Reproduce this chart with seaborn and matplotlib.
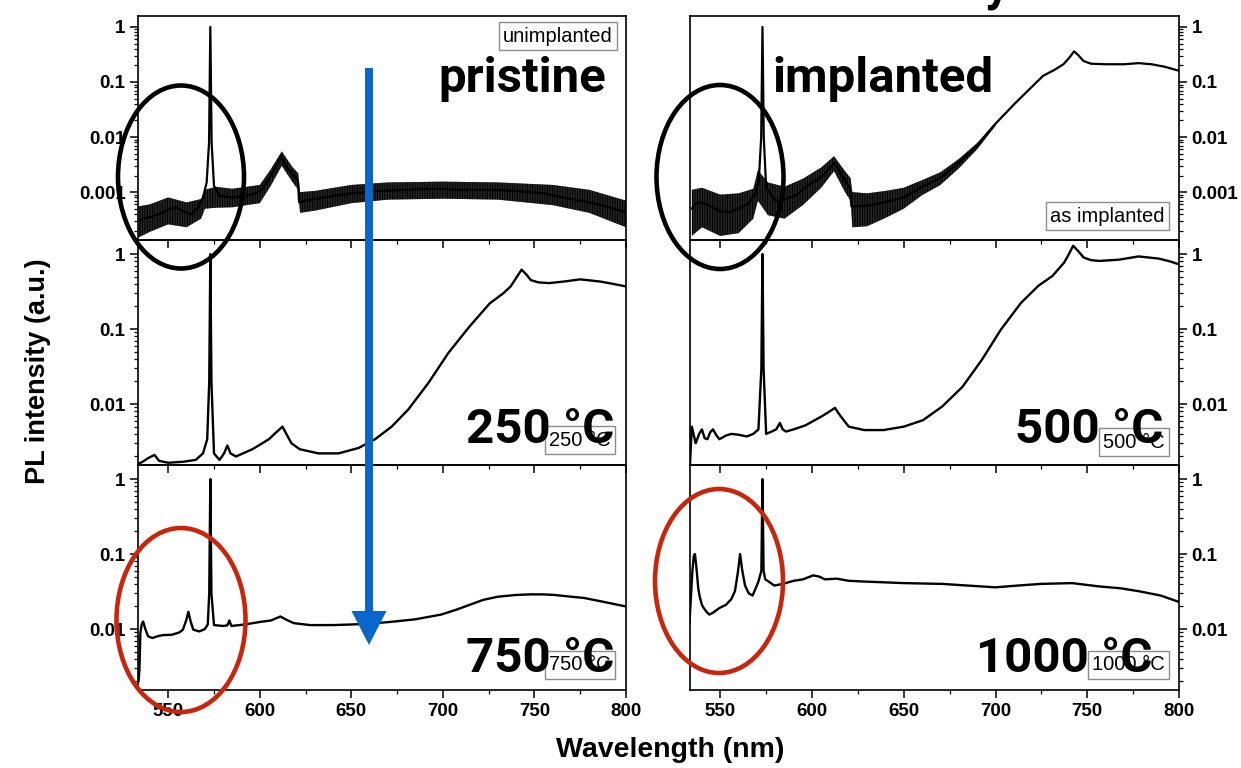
import numpy as np
import pandas as pd
import matplotlib
matplotlib.use("Agg")
import matplotlib.pyplot as plt
import seaborn as sns
from matplotlib.patches import Ellipse, FancyArrow
from matplotlib.ticker import FixedLocator, LogLocator, NullFormatter, MultipleLocator

# ---------------- data ----------------
wl_unimp = [533.8, 536, 540, 545, 550, 554, 558, 562, 566, 569, 571, 572.3, 573, 573.7, 575, 578, 585,
            592, 598, 602, 606, 609, 611.7, 614, 617, 620, 620.8, 621.5, 625, 635, 650, 665, 680, 695,
            710, 725, 740, 755, 770, 785, 800]
pl_unimp = [3.0e-4, 3.3e-4, 3.5e-4, 4.0e-4, 4.8e-4, 5.3e-4, 4.6e-4, 3.9e-4, 5.0e-4, 8.0e-4, 1.5e-3, 8e-3,
            1.0, 8e-3, 1.3e-3, 8.5e-4, 8.0e-4, 8.5e-4, 9.5e-4, 1.2e-3, 2.0e-3, 3.0e-3, 4.5e-3, 3.0e-3,
            2.3e-3, 1.8e-3, 1.6e-3, 6.5e-4, 7.0e-4, 8.0e-4, 9.5e-4, 1.05e-3, 1.1e-3, 1.15e-3, 1.1e-3,
            1.1e-3, 1.05e-3, 9.5e-4, 7.5e-4, 6.0e-4, 4.3e-4]
band_wl_unimp = [533.8, 540, 550, 560, 568, 570, 576, 585, 600, 606, 612, 618, 621, 622, 630, 650, 670,
                 700, 730, 760, 780, 800]
band_lo_unimp = [1.5e-4, 1.9e-4, 2.6e-4, 2.3e-4, 3.3e-4, 5e-4, 5.2e-4, 5.3e-4, 6.3e-4, 1.3e-3, 3.0e-3,
                 1.5e-3, 1.1e-3, 4.2e-4, 4.6e-4, 6.3e-4, 7.3e-4, 7.6e-4, 7.3e-4, 5.8e-4, 4.2e-4, 2.3e-4]
band_hi_unimp = [5.5e-4, 6e-4, 8e-4, 6.5e-4, 7.5e-4, 1.1e-3, 1.25e-3, 1.15e-3, 1.35e-3, 2.6e-3, 5.5e-3,
                 2.8e-3, 2.2e-3, 1.0e-3, 1.05e-3, 1.35e-3, 1.5e-3, 1.55e-3, 1.5e-3, 1.35e-3, 1.1e-3, 7e-4]

wl_asimp = [534.5, 536, 540, 545, 550, 555, 560, 565, 569, 571, 572.3, 573, 573.7, 575, 580, 586, 592,
            597, 602, 606, 610, 612.5, 615, 618, 620.5, 621.5, 625, 632, 640, 650, 660, 670, 680, 690,
            700, 710, 720, 726, 732, 737, 740, 742.8, 745, 748, 752, 760, 770, 778, 785, 792, 800]
pl_asimp = [5e-4, 6e-4, 6.5e-4, 5.5e-4, 4.5e-4, 4.3e-4, 5e-4, 6e-4, 9e-4, 1.6e-3, 1e-2, 1.0, 1e-2,
            1.2e-3, 7e-4, 7.5e-4, 9e-4, 1.3e-3, 1.6e-3, 2.0e-3, 2.8e-3, 3.4e-3, 2.4e-3, 1.6e-3, 1.2e-3,
            5.5e-4, 5.5e-4, 5.8e-4, 6.6e-4, 8e-4, 1.25e-3, 1.8e-3, 3.4e-3, 7e-3, 1.75e-2, 3.9e-2, 8.3e-2,
            0.13, 0.165, 0.21, 0.27, 0.36, 0.31, 0.24, 0.215, 0.21, 0.21, 0.22, 0.21, 0.19, 0.16]
band_wl_asimp = [534.5, 540, 550, 560, 568, 570.5, 576, 585, 595, 605, 612, 618, 621, 622, 630, 640,
                 650, 660, 670, 680, 690, 700]
band_lo_asimp = [1.6e-4, 2.3e-4, 1.6e-4, 1.8e-4, 3.3e-4, 7e-4, 3.8e-4, 3.3e-4, 5.8e-4, 1.2e-3, 2.4e-3,
                 1.0e-3, 7e-4, 2.3e-4, 2.4e-4, 3.4e-4, 5e-4, 8.8e-4, 1.35e-3, 2.7e-3, 6.0e-3, 1.6e-2]
band_hi_asimp = [1.1e-3, 1.2e-3, 9e-4, 9.5e-4, 1.15e-3, 2.5e-3, 1.5e-3, 1.25e-3, 1.75e-3, 2.8e-3, 4.5e-3,
                 2.4e-3, 1.8e-3, 1.0e-3, 9.5e-4, 1.05e-3, 1.2e-3, 1.65e-3, 2.3e-3, 4.0e-3, 7.8e-3, 1.85e-2]

wl_250 = [533.8, 536, 539, 542.5, 545, 550, 558, 565, 569, 571.3, 572.4, 573, 573.6, 575, 578, 580.5,
          582.3, 584, 587, 596, 605, 609, 612.4, 615, 617.3, 621.8, 632, 643, 654, 663, 672, 681, 692,
          703, 714.5, 725.6, 733, 737, 740, 743, 746, 748, 752, 758, 766, 775, 786, 793, 800]
pl_250 = [1.6e-3, 1.7e-3, 1.9e-3, 2.1e-3, 1.75e-3, 1.65e-3, 1.7e-3, 1.8e-3, 2.2e-3, 3.4e-3, 2e-2, 1.0,
          2e-2, 2.2e-3, 1.8e-3, 2.2e-3, 2.8e-3, 2.2e-3, 2.0e-3, 2.5e-3, 3.4e-3, 4.2e-3, 5.0e-3, 3.8e-3,
          3.0e-3, 2.5e-3, 2.2e-3, 2.2e-3, 2.6e-3, 3.4e-3, 5.0e-3, 8.4e-3, 1.9e-2, 4.8e-2, 0.108, 0.22,
          0.3, 0.37, 0.48, 0.62, 0.52, 0.45, 0.42, 0.41, 0.43, 0.46, 0.43, 0.40, 0.37]

wl_500 = [533.5, 534.5, 536.6, 538.5, 540, 541.5, 543, 544.5, 546, 548, 549.5, 553, 556, 560, 564.4, 568,
          570.8, 572.4, 573, 573.6, 575, 578, 580.5, 582.5, 584, 585.8, 590, 596.4, 605, 609, 612.5, 615,
          620, 628.5, 639, 650, 660.5, 671, 682, 692.6, 703, 714, 723.5, 731, 737.4, 740, 742.3, 745,
          748, 752, 756.6, 767, 778, 789, 795, 800]
pl_500 = [1.6e-3, 5e-3, 3.0e-3, 4.0e-3, 4.6e-3, 3.5e-3, 3.4e-3, 4.2e-3, 4.6e-3, 3.8e-3, 3.4e-3, 3.8e-3,
          4.0e-3, 3.9e-3, 3.7e-3, 4.0e-3, 4.6e-3, 3e-2, 1.0, 3e-2, 4.0e-3, 4.3e-3, 4.6e-3, 5.6e-3, 4.6e-3,
          4.3e-3, 4.6e-3, 5.2e-3, 6.8e-3, 7.8e-3, 8.9e-3, 7.2e-3, 5.0e-3, 4.5e-3, 4.5e-3, 5.0e-3, 6.1e-3,
          9.3e-3, 1.7e-2, 3.9e-2, 9.9e-2, 0.225, 0.38, 0.51, 0.77, 1.0, 1.29, 1.1, 0.9, 0.83, 0.81, 0.84,
          0.93, 0.87, 0.8, 0.73]

wl_750 = [533.8, 534.3, 534.8, 535.5, 536.3, 537.5, 539, 541.4, 544, 547, 552, 556, 558, 559.8, 561,
          562.3, 563.7, 567, 570, 571.6, 572.4, 573, 573.6, 575, 580, 582.3, 583.4, 584.5, 591.7, 600.6,
          606, 611.3, 614, 618.5, 627.4, 640, 649.7, 660, 672, 685, 699, 707, 714.5, 722, 730, 740, 748,
          755, 761, 770, 777, 788, 800]
pl_750 = [2.0e-3, 2.9e-3, 8.9e-3, 1.15e-2, 1.26e-2, 1.0e-2, 8.0e-3, 7.6e-3, 8.0e-3, 8.3e-3, 8.4e-3,
          9.0e-3, 9.8e-3, 1.3e-2, 1.7e-2, 1.25e-2, 9.8e-3, 9.3e-3, 1.0e-2, 1.15e-2, 3e-2, 1.0, 3e-2,
          1.13e-2, 1.1e-2, 1.12e-2, 1.3e-2, 1.1e-2, 1.15e-2, 1.25e-2, 1.3e-2, 1.47e-2, 1.35e-2, 1.2e-2,
          1.13e-2, 1.13e-2, 1.15e-2, 1.18e-2, 1.25e-2, 1.35e-2, 1.56e-2, 1.8e-2, 2.1e-2, 2.45e-2, 2.7e-2,
          2.85e-2, 2.9e-2, 2.9e-2, 2.85e-2, 2.7e-2, 2.6e-2, 2.3e-2, 2.0e-2]

wl_1000 = [533.2, 533.8, 534.8, 535.6, 536.2, 536.9, 538, 538.8, 540, 541, 542.5, 544, 546, 549.4, 553,
           556, 558, 559.5, 560.8, 562, 563.5, 565.5, 567.6, 569.5, 570.8, 572.4, 573, 573.6, 574.5, 577,
           579.4, 584, 590, 595, 600.7, 604, 607, 613.5, 620, 628.5, 650, 671, 685, 700, 712, 724.6,
           741.7, 756.6, 768, 778, 790, 800]
pl_1000 = [1.2e-2, 2.2e-2, 6e-2, 0.095, 0.10, 0.07, 3.5e-2, 2.7e-2, 2.1e-2, 1.9e-2, 1.7e-2, 1.56e-2,
           1.65e-2, 1.9e-2, 2.1e-2, 2.5e-2, 3.2e-2, 5.5e-2, 0.10, 6.0e-2, 3.8e-2, 3.0e-2, 2.8e-2, 3.6e-2,
           4.3e-2, 6e-2, 1.0, 6e-2, 4.6e-2, 4.2e-2, 3.8e-2, 4.0e-2, 4.4e-2, 4.6e-2, 5.2e-2, 5.0e-2,
           4.6e-2, 4.7e-2, 4.4e-2, 4.3e-2, 4.1e-2, 4.0e-2, 3.8e-2, 3.6e-2, 3.8e-2, 4.0e-2, 4.1e-2, 3.7e-2,
           3.5e-2, 3.2e-2, 2.8e-2, 2.3e-2]

big_labels = ["pristine", "implanted", "250 °C", "500 °C", "750 °C", "1000 °C"]
legend_labels = ["unimplanted", "as implanted", "250 °C", "500 °C", "750 °C", "1000 °C"]
x_ticks = [550, 600, 650, 700, 750, 800]

# ---------------- style ----------------
sns.set_theme(style="ticks")
plt.rcParams["font.family"] = ["Liberation Sans", "DejaVu Sans"]
plt.rcParams["axes.linewidth"] = 1.2
plt.rcParams["text.color"] = "black"
plt.rcParams["axes.labelcolor"] = "black"
plt.rcParams["xtick.color"] = "black"
plt.rcParams["ytick.color"] = "black"
plt.rcParams["hatch.linewidth"] = 1.0
plt.rcParams["hatch.color"] = "black"

W, H = 1241, 768
fig = plt.figure(figsize=(W / 100, H / 100), dpi=100)

def fx(px):
    return px / W

def fy(py):
    return 1 - py / H

cols = [(138, 626), (690, 1179)]
rows = [(16, 240), (240, 465), (465, 690)]
ylims = [(1.35e-4, 1.58), (1.54e-3, 1.54), (1.54e-3, 1.54)]

panels = [
    (0, 0, wl_unimp, pl_unimp, (band_wl_unimp, band_lo_unimp, band_hi_unimp)),
    (0, 1, wl_asimp, pl_asimp, (band_wl_asimp, band_lo_asimp, band_hi_asimp)),
    (1, 0, wl_250, pl_250, None),
    (1, 1, wl_500, pl_500, None),
    (2, 0, wl_750, pl_750, None),
    (2, 1, wl_1000, pl_1000, None),
]

axes = {}
for r, c, wl, pl, band in panels:
    x0, x1 = cols[c]
    y0, y1 = rows[r]
    ax = fig.add_axes([fx(x0), fy(y1), (x1 - x0) / W, (y1 - y0) / H])
    axes[(r, c)] = ax
    ax.set_yscale("log")
    df = pd.DataFrame({"wl": wl, "pl": pl})
    if band is not None:
        # noisy envelope: dark core with dense vertical hatching
        ax.fill_between(band[0], band[1], band[2], facecolor=(0, 0, 0, 0.45), edgecolor="black",
                        hatch="||||||||||", lw=0, zorder=2)
    sns.lineplot(data=df, x="wl", y="pl", ax=ax, color="black", lw=1.7 if band is None else 1.6,
                 zorder=3, estimator=None)
    ax.set_xlim(533.5, 800)
    ax.set_ylim(*ylims[r])
    ax.set_xlabel("")
    ax.set_ylabel("")
    for s in ax.spines.values():
        s.set_visible(True)
        s.set_color("black")
        s.set_linewidth(1.2)
    ax.xaxis.set_major_locator(FixedLocator(x_ticks))
    ax.xaxis.set_minor_locator(MultipleLocator(25))
    if r == 2:
        ax.set_xticklabels([str(t) for t in x_ticks])
    else:
        ax.set_xticklabels([])
    yt = [1e-3, 1e-2, 1e-1, 1] if r == 0 else [1e-2, 1e-1, 1]
    ax.yaxis.set_major_locator(FixedLocator(yt))
    ax.set_yticklabels(["0.001", "0.01", "0.1", "1"][-len(yt):])
    ax.yaxis.set_minor_locator(LogLocator(base=10, subs=np.arange(2, 10) * 1.0, numticks=20))
    ax.yaxis.set_minor_formatter(NullFormatter())
    ax.tick_params(axis="both", which="major", direction="out", length=6, width=1.1,
                   labelsize=13.5, pad=3, colors="black")
    ax.tick_params(axis="both", which="minor", direction="out", length=3, width=0.9)
    ax.tick_params(axis="x", which="both", top=False, bottom=True)
    if c == 1:
        ax.yaxis.tick_right()
        ax.tick_params(axis="y", which="both", left=False, right=True)
    else:
        ax.tick_params(axis="y", which="both", left=True, right=False)
    for lab in ax.get_xticklabels() + ax.get_yticklabels():
        lab.set_fontweight("bold")
    ax.set_facecolor("none")

# ---------------- annotations ----------------
big_font = dict(family=["Roboto", "DejaVu Sans"], weight="bold", size=35.5, color="black", zorder=20)
small_box = dict(boxstyle="square,pad=0.22", fc="white", ec="#8c8c8c", lw=1.0)
small_font = dict(size=14.5, color="black", bbox=small_box, zorder=10)

# legend-like boxes
fig.text(fx(613), fy(36), legend_labels[0], ha="right", va="center", **small_font)
fig.text(fx(1165), fy(216), legend_labels[1], ha="right", va="center", **small_font)
fig.text(fx(611), fy(440), legend_labels[2], ha="right", va="center", **small_font)
fig.text(fx(1165), fy(442), legend_labels[3], ha="right", va="center", **small_font)
fig.text(fx(611), fy(665), legend_labels[4], ha="right", va="center", **small_font)
fig.text(fx(1165), fy(665), legend_labels[5], ha="right", va="center", **small_font)

# big labels
fig.text(fx(606), fy(92), big_labels[0], ha="right", va="baseline", **big_font)
fig.text(fx(772), fy(92), big_labels[1], ha="left", va="baseline", **big_font)
fig.text(fx(614), fy(443), big_labels[2], ha="right", va="baseline", **big_font)
fig.text(fx(1163), fy(443), big_labels[3], ha="right", va="baseline", **big_font)
fig.text(fx(614), fy(672), big_labels[4], ha="right", va="baseline", **big_font)
fig.text(fx(1152), fy(672), big_labels[5], ha="right", va="baseline", **big_font)

# cut-off title fragment at the very top
fig.text(fx(997), fy(-1), "y", ha="center", va="baseline", **big_font)

# axis titles
fig.text(fx(670), fy(750), "Wavelength (nm)", ha="center", va="center", fontsize=20.5, fontweight="bold")
fig.text(fx(38), fy(371), "PL intensity (a.u.)", ha="center", va="center", rotation=90,
         fontsize=19.5, fontweight="bold")

# ellipses
for (cx, cy, w, h, col) in [(181, 177, 126, 183, "black"), (720, 177, 127, 184, "black"),
                            (181, 620, 129, 184, "#c8260c"), (719, 581, 128, 184, "#c8260c")]:
    e = Ellipse((fx(cx), fy(cy)), w / W, h / H, transform=fig.transFigure, fill=False,
                ec=col, lw=3.3, zorder=30)
    fig.patches.append(e)

# blue arrow
arr = FancyArrow(fx(369), fy(68), 0, fy(645) - fy(68), width=8 / W, head_width=35 / W,
                 head_length=34 / H, length_includes_head=True, transform=fig.transFigure,
                 color="#0a66c8", lw=0, zorder=40)
fig.patches.append(arr)

fig.savefig("out.png", dpi=100)
